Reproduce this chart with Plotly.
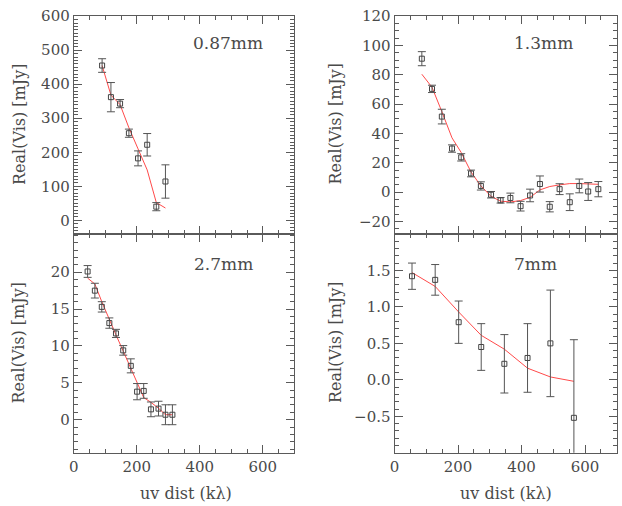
import plotly.graph_objects as go

# 0.87 mm
uv_087 = [90, 118, 147, 175, 204, 233, 262, 291]
re_087 = [455, 362, 343, 256, 182, 222, 40, 114]
err_087 = [20, 43, 12, 12, 22, 33, 12, 49]
mod_087 = [455, 368, 340, 272, 210, 148, 52, 36]

# 1.3 mm
uv_13 = [86, 118, 149, 181, 210, 241, 272, 304, 334, 365, 397, 427, 458, 489, 520, 552, 582, 610, 642]
re_13 = [91, 70.4, 51.5, 29.7, 23.7, 12.7, 4.2, -1.8, -5.6, -4.0, -9.6, -2.3, 5.5, -10.0, 2.0, -6.9, 4.2, 0.4, 2.0]
err_13 = [4.8, 2.5, 5.0, 2.5, 2.5, 2.3, 2.8, 2.2, 1.9, 3.3, 3.3, 4.3, 5.5, 3.5, 3.7, 5.7, 4.7, 6.1, 5.2]
mod_13 = [80.4, 71.5, 54.9, 37.0, 27.0, 13.7, 4.2, -2.9, -6.2, -6.7, -5.8, -3.6, 1.5, 3.8, 4.9, 5.8, 5.8, 5.8, 5.3]

# 2.7 mm
uv_27 = [44, 67, 89, 113, 134, 157, 181, 201, 222, 245, 269, 291, 313]
re_27 = [20.1, 17.5, 15.3, 13.1, 11.7, 9.4, 7.3, 3.8, 3.9, 1.4, 1.5, 0.67, 0.67]
err_27 = [0.8, 1.0, 0.7, 0.7, 0.55, 0.65, 0.95, 1.1, 1.0, 1.0, 1.0, 1.35, 1.35]
mod_27 = [19.2, 18.4, 16.0, 13.5, 11.5, 9.3, 6.9, 4.9, 3.0, 2.35, 1.55, 0.67, 0.67]

# 7 mm
uv_7 = [55, 128, 202, 273, 346, 419, 491, 565]
re_7 = [1.42, 1.37, 0.79, 0.45, 0.22, 0.30, 0.50, -0.52]
err_7 = [0.18, 0.21, 0.29, 0.32, 0.40, 0.47, 0.73, 1.07]
mod_7 = [1.47, 1.28, 0.93, 0.61, 0.42, 0.16, 0.04, -0.02]

labels = ["0.87mm", "1.3mm", "2.7mm", "7mm"]

FONT = "DejaVu Serif"
INK = "#4a4a4a"
AX = "#5a5a5a"

panels = [
    (uv_087, re_087, err_087, mod_087, "x", "y"),
    (uv_13, re_13, err_13, mod_13, "x2", "y2"),
    (uv_27, re_27, err_27, mod_27, "x3", "y3"),
    (uv_7, re_7, err_7, mod_7, "x4", "y4"),
]

fig = go.Figure()
for uv, re, err, mod, xa, ya in panels:
    fig.add_trace(go.Scatter(
        x=uv, y=mod, mode="lines", xaxis=xa, yaxis=ya, showlegend=False,
        line=dict(color="#ff4a4a", width=1)))
    fig.add_trace(go.Scatter(
        x=uv, y=re, mode="markers", xaxis=xa, yaxis=ya, showlegend=False,
        marker=dict(symbol="square-open", size=5, color="#444444", line=dict(width=1)),
        error_y=dict(type="data", array=err, color="#555555", thickness=1, width=4)))

xL = [69.3 / 622, 291.7 / 622]
xR = [392.7 / 622, 616.7 / 622]
yT = [1 - 229.5 / 506, 1 - 8 / 506]
yB = [1 - 452 / 506, 1 - 229.5 / 506]


def xaxis(dom, anchor, labels_on):
    return dict(domain=dom, anchor=anchor, range=[0, 700],
                tickvals=[0, 200, 400, 600], showticklabels=labels_on,
                ticks="inside", ticklen=8, tickcolor=AX, showline=True,
                linecolor=AX, mirror="allticks", showgrid=False, zeroline=False,
                ticklabeloverflow="allow",
                minor=dict(ticks="inside", ticklen=4, dtick=50, tick0=0, tickcolor=AX),
                tickfont=dict(family=FONT, size=15, color=INK))


def yaxis(dom, anchor, rng, vals, mdt, fmt=None):
    d = dict(domain=dom, anchor=anchor, range=rng, tickvals=vals,
             ticks="inside", ticklen=8, tickcolor=AX, showline=True,
             linecolor=AX, mirror="allticks", showgrid=False, zeroline=False,
             ticklabeloverflow="allow",
             minor=dict(ticks="inside", ticklen=4, dtick=mdt, tick0=0, tickcolor=AX),
             tickfont=dict(family=FONT, size=15, color=INK))
    if fmt:
        d["tickformat"] = fmt
    return d


fig.update_layout(
    width=622, height=506, margin=dict(l=0, r=0, t=0, b=0),
    paper_bgcolor="white", plot_bgcolor="white",
    xaxis=xaxis(xL, "y", False),
    xaxis2=xaxis(xR, "y2", False),
    xaxis3=xaxis(xL, "y3", True),
    xaxis4=xaxis(xR, "y4", True),
    yaxis=yaxis(yT, "x", [-40, 601], [0, 100, 200, 300, 400, 500, 600], 10),
    yaxis2=yaxis(yT, "x2", [-28.5, 120.2], [-20, 0, 20, 40, 60, 80, 100, 120], 5),
    yaxis3=yaxis(yB, "x3", [-4.5, 25.2], [0, 5, 10, 15, 20], 1),
    yaxis4=yaxis(yB, "x4", [-1.0, 2.0], [-0.5, 0, 0.5, 1.0, 1.5], 0.1, ".1f"),
)

ann = []
for txt, x, y in zip(labels, [225, 543, 220, 535], [36, 36, 260, 260]):
    ann.append(dict(text=txt, x=x / 622, y=1 - y / 506, xref="paper", yref="paper",
                    xanchor="center", yanchor="middle", showarrow=False,
                    font=dict(family=FONT, size=17, color=INK)))
for x, y in [(14, 118), (14, 340), (333, 118), (333, 340)]:
    ann.append(dict(text="Real(Vis) [mJy]", x=x / 622, y=1 - y / 506, xref="paper",
                    yref="paper", xanchor="center", yanchor="middle",
                    showarrow=False, textangle=-90,
                    font=dict(family=FONT, size=16, color=INK)))
for x in [182, 505]:
    ann.append(dict(text="uv dist (kλ)", x=x / 622, y=1 - 493 / 506, xref="paper",
                    yref="paper", xanchor="center", yanchor="middle", showarrow=False,
                    font=dict(family=FONT, size=16, color=INK)))
fig.update_layout(annotations=ann)

fig.write_html("out.html", config={"displayModeBar": False},
               post_script="document.body.style.margin='0';")
